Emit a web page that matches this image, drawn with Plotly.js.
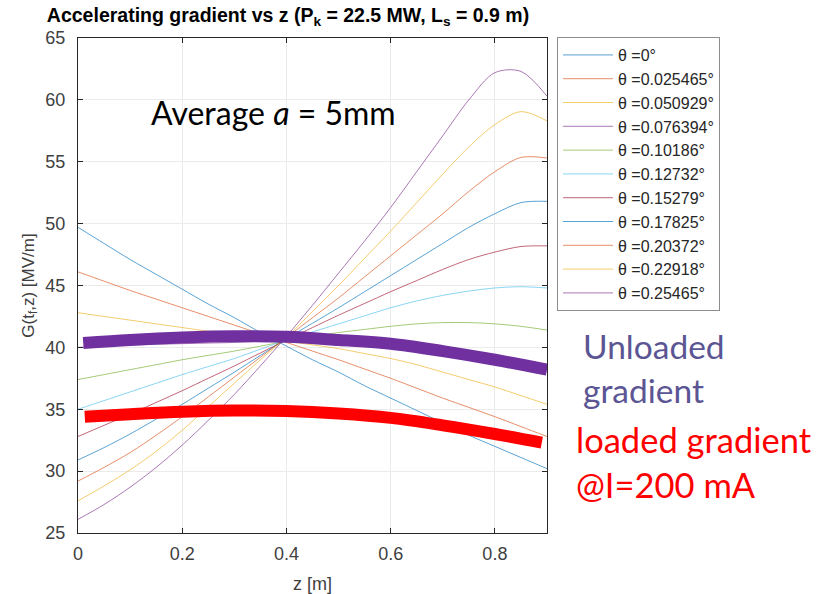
<!DOCTYPE html>
<html>
<head>
<meta charset="utf-8">
<script src="https://cdn.plot.ly/plotly-3.0.1.min.js"></script>
<style>html,body{margin:0;padding:0;background:#fff;}#chart{width:817px;height:594px;}</style>
</head>
<body>
<div id="chart"></div>
<script>
// z sample positions [m]
const z = [0, 0.05, 0.1, 0.15, 0.2, 0.25, 0.3, 0.35, 0.4, 0.45, 0.5, 0.55, 0.6, 0.65, 0.7, 0.75, 0.8, 0.85, 0.9];

// legend labels (taper angle)
const thetaLabels = ["θ =0°", "θ =0.025465°", "θ =0.050929°", "θ =0.076394°", "θ =0.10186°",
  "θ =0.12732°", "θ =0.15279°", "θ =0.17825°", "θ =0.20372°", "θ =0.22918°", "θ =0.25465°"];

// gradient G(t_f, z) [MV/m] per angle
const g0      = [49.7, 48.4, 47.1, 45.9, 44.7, 43.5, 42.4, 41.2, 40.1, 39.0, 38.0, 36.9, 35.9, 34.9, 33.9, 32.9, 32.0, 31.1, 30.2];
const g025465 = [46.1, 45.35, 44.6, 43.9, 43.2, 42.5, 41.8, 41.1, 40.4, 39.7, 39.0, 38.25, 37.5, 36.7, 35.9, 35.15, 34.4, 33.6, 32.8];
const g050929 = [42.8, 42.5, 42.2, 41.9, 41.6, 41.3, 41.0, 40.75, 40.5, 40.2, 39.9, 39.5, 39.1, 38.6, 38.0, 37.4, 36.8, 36.1, 35.4];
const g076394 = [40.0, 40.1, 40.2, 40.25, 40.3, 40.35, 40.4, 40.5, 40.6, 40.6, 40.5, 40.4, 40.3, 40.1, 39.8, 39.5, 39.1, 38.7, 38.2];
const g10186  = [37.4, 37.8, 38.2, 38.6, 39.0, 39.35, 39.7, 40.1, 40.5, 40.85, 41.2, 41.45, 41.7, 41.9, 42.0, 42.0, 41.9, 41.7, 41.4];
const g12732  = [35.0, 35.7, 36.4, 37.1, 37.8, 38.45, 39.1, 39.85, 40.6, 41.25, 41.9, 42.55, 43.2, 43.75, 44.2, 44.55, 44.8, 44.9, 44.8];
const g15279  = [32.8, 33.7, 34.6, 35.55, 36.5, 37.5, 38.5, 39.55, 40.6, 41.6, 42.6, 43.55, 44.5, 45.4, 46.3, 47.1, 47.7, 48.15, 48.2];
const g17825  = [30.9, 31.9, 33.0, 34.2, 35.4, 36.7, 38.0, 39.35, 40.7, 41.95, 43.2, 44.5, 45.8, 47.1, 48.4, 49.7, 50.8, 51.7, 51.8];
const g20372  = [29.2, 30.3, 31.5, 32.9, 34.4, 36.0, 37.6, 39.2, 40.8, 42.4, 44.0, 45.7, 47.4, 49.1, 50.8, 52.6, 54.2, 55.35, 55.3];
const g22918  = [27.6, 28.8, 30.1, 31.6, 33.3, 35.2, 37.1, 39.0, 40.8, 42.9, 45.0, 47.2, 49.4, 51.7, 54.0, 56.2, 58.0, 59.05, 58.3];
const g25465  = [26.1, 27.3, 28.7, 30.3, 32.1, 34.1, 36.2, 38.5, 40.9, 43.4, 46.0, 48.6, 51.3, 54.2, 57.1, 60.0, 62.2, 62.3, 60.3];

// hand-drawn overlay curves
const zOverlay   = [0.01, 0.1, 0.2, 0.3, 0.4, 0.5, 0.6, 0.7, 0.8, 0.9];
const unloaded   = [40.35, 40.6, 40.8, 40.9, 40.85, 40.6, 40.3, 39.7, 39.0, 38.2];
const zLoaded    = [0.013, 0.1, 0.2, 0.3, 0.4, 0.5, 0.6, 0.7, 0.8, 0.89];
const loaded     = [34.4, 34.6, 34.8, 34.9, 34.85, 34.65, 34.3, 33.7, 33.0, 32.3];

const series = [g0, g025465, g050929, g076394, g10186, g12732, g15279, g17825, g20372, g22918, g25465];
const colors = ["#0072BD", "#D95319", "#EDB120", "#7E2F8E", "#77AC30", "#4DBEEE", "#A2142F",
  "#0072BD", "#D95319", "#EDB120", "#7E2F8E"];

const traces = series.map((g, i) => ({
  x: z, y: g, type: "scatter", mode: "lines", name: thetaLabels[i],
  legendgroup: "g" + i,
  line: {color: colors[i], width: 1, shape: "spline", smoothing: 0.9},
  opacity: 0.65
}));
traces.push({x: zOverlay, y: unloaded, type: "scatter", mode: "lines", showlegend: false,
  line: {color: "#7030A0", width: 12, shape: "spline"}});
traces.push({x: zLoaded, y: loaded, type: "scatter", mode: "lines", showlegend: false,
  line: {color: "#FF0000", width: 12, shape: "spline"}});

const font = "Liberation Sans, Arial, Helvetica, sans-serif";
const calib = "Lato, Open Sans, sans-serif";
const layout = {
  width: 817, height: 594,
  margin: {l: 78, r: 270, t: 38, b: 61},
  paper_bgcolor: "#ffffff", plot_bgcolor: "#ffffff",
  font: {family: font, size: 17, color: "#404040"},
  title: {
    text: "<b>Accelerating gradient vs z (P<sub>k</sub> = 22.5 MW, L<sub>s</sub> = 0.9 m)</b>",
    font: {family: font, size: 19.5, color: "#000000"},
    x: 288 / 817, xref: "container", xanchor: "center",
    y: 1 - 15 / 594, yref: "container", yanchor: "middle"
  },
  xaxis: {
    range: [0, 0.9], tickvals: [0, 0.2, 0.4, 0.6, 0.8], ticktext: ["0", "0.2", "0.4", "0.6", "0.8"],
    showgrid: true, gridcolor: "#ebebeb", gridwidth: 1, zeroline: false,
    showline: true, linecolor: "#262626", linewidth: 1, mirror: "ticks",
    ticks: "inside", ticklen: 5, tickcolor: "#262626", ticklabelstandoff: 4,
    tickfont: {size: 18, color: "#404040"},
    title: {text: "z [m]", font: {size: 18, color: "#404040"}, standoff: 15}
  },
  yaxis: {
    range: [25, 65], dtick: 5, tick0: 25,
    showgrid: true, gridcolor: "#ebebeb", gridwidth: 1, zeroline: false,
    showline: true, linecolor: "#262626", linewidth: 1, mirror: "ticks",
    ticks: "inside", ticklen: 5, tickcolor: "#262626", ticklabelstandoff: 8,
    tickfont: {size: 18, color: "#404040"},
    title: {text: "G(t<sub>f</sub>,z) [MV/m]", font: {size: 17, color: "#404040"}, standoff: 6}
  },
  showlegend: true,
  legend: {
    x: (557 - 78) / 469, xanchor: "left", y: 1.002, yanchor: "top",
    bgcolor: "#ffffff", bordercolor: "#8c8c8c", borderwidth: 1,
    font: {family: font, size: 16, color: "#262626"},
    tracegroupgap: 2.5, traceorder: "normal", itemwidth: 50
  },
  annotations: [
    {text: "Average <i>a</i> = 5mm", xref: "paper", yref: "paper",
     x: (273 - 78) / 469, y: 1 - (113 - 38) / 495, xanchor: "center", yanchor: "middle",
     showarrow: false, font: {family: calib, size: 32, color: "#000000"}},
    {text: "Unloaded<br>gradient", xref: "paper", yref: "paper", align: "left",
     x: (581 - 78) / 469, y: 1 - (368 - 38) / 495, xanchor: "left", yanchor: "middle",
     showarrow: false, font: {family: calib, size: 33.5, color: "#5B5593"}},
    {text: "loaded gradient<br>@I=200 mA", xref: "paper", yref: "paper", align: "left",
     x: (574 - 78) / 469, y: 1 - (462 - 38) / 495, xanchor: "left", yanchor: "middle",
     showarrow: false, font: {family: calib, size: 34.5, color: "#FF0000"}}
  ]
};

Plotly.newPlot("chart", traces, layout, {staticPlot: true, displayModeBar: false});
</script>
</body>
</html>
